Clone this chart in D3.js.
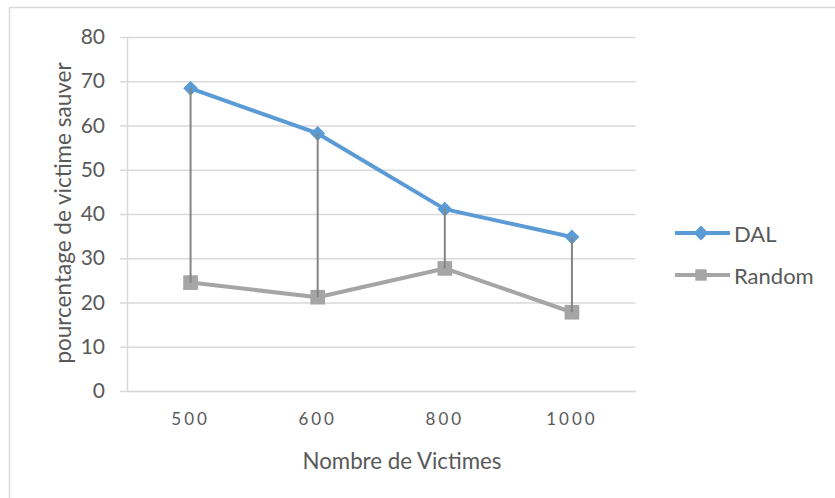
<!DOCTYPE html>
<html>
<head>
<meta charset="utf-8">
<script src="https://cdn.jsdelivr.net/npm/d3@7"></script>
<style>
  html, body { margin: 0; padding: 0; background: #fff; }
  svg { display: block; }
  text { font-family: Lato, "Open Sans", sans-serif; fill: #595959; }
</style>
</head>
<body>
<svg id="chart" width="835" height="498"></svg>
<script>
// Rescued-victim percentages per scenario size
const categories = ["500", "600", "800", "1000"];
const dalValues = [68.4, 58.2, 41.1, 34.8];
const randomValues = [24.5, 21.2, 27.7, 17.8];
const yTicks = [0, 10, 20, 30, 40, 50, 60, 70, 80];
const seriesNames = ["DAL", "Random"];

const plot = { left: 127, right: 635.5, top: 37, bottom: 391 };
const blue = "#5B9BD5", gray = "#A5A5A5", grid = "#D9D9D9";

const svg = d3.select("#chart");

// outer chart frame
svg.append("rect")
  .attr("x", 9.5).attr("y", 7.5)
  .attr("width", 835).attr("height", 495)
  .attr("fill", "#fff").attr("stroke", grid).attr("stroke-width", 1.5);

const x = d3.scaleBand().domain(categories).range([plot.left, plot.right]);
const y = d3.scaleLinear().domain([0, 80]).range([plot.bottom, plot.top]);

// horizontal gridlines with short outward ticks
const yAxis = d3.axisLeft(y)
  .tickValues(yTicks)
  .tickSize(-(plot.right - plot.left))
  .tickSizeOuter(0)
  .tickPadding(22);
const gy = svg.append("g").attr("transform", `translate(${plot.left},0)`).call(yAxis);
gy.select(".domain").attr("stroke", grid).attr("stroke-width", 1.5);
gy.selectAll(".tick line").attr("stroke", grid).attr("stroke-width", 1.5);
gy.selectAll(".tick").append("line")
  .attr("x1", -7).attr("x2", 0)
  .attr("stroke", grid).attr("stroke-width", 1.5);
gy.selectAll(".tick text")
  .style("font-size", "21px")
  .attr("fill", "#595959");

// category axis
const xAxis = d3.axisBottom(x).tickSize(0).tickSizeOuter(0).tickPadding(22);
const gx = svg.append("g").attr("transform", `translate(0,${plot.bottom})`).call(xAxis);
gx.select(".domain").attr("stroke", grid).attr("stroke-width", 1.5);
gx.selectAll(".tick text")
  .style("font-size", "17px")
  .style("letter-spacing", "3px")
  .attr("fill", "#595959");

// axis titles
svg.append("text")
  .attr("transform", `translate(62,213) rotate(-90)`)
  .attr("text-anchor", "middle")
  .attr("dominant-baseline", "central")
  .style("font-size", "22.5px")
  .text("pourcentage de victime sauver");

svg.append("text")
  .attr("x", 402).attr("y", 469)
  .attr("text-anchor", "middle")
  .style("font-size", "22.3px")
  .text("Nombre de Victimes");

const cx = c => x(c) + x.bandwidth() / 2;
const line = d3.line().x((d, i) => cx(categories[i])).y(d => y(d));

// series lines
svg.append("path").datum(randomValues)
  .attr("d", line).attr("fill", "none")
  .attr("stroke", gray).attr("stroke-width", 4).attr("stroke-linejoin", "round");
svg.append("path").datum(dalValues)
  .attr("d", line).attr("fill", "none")
  .attr("stroke", blue).attr("stroke-width", 4).attr("stroke-linejoin", "round");

// markers
const diamond = d3.symbol().type(d3.symbolDiamond2).size(140);
const square = d3.symbol().type(d3.symbolSquare).size(215);

svg.append("g").selectAll("path").data(randomValues).join("path")
  .attr("d", square)
  .attr("transform", (d, i) => `translate(${cx(categories[i])},${y(d)})`)
  .attr("fill", gray);
svg.append("g").selectAll("path").data(dalValues).join("path")
  .attr("d", diamond)
  .attr("transform", (d, i) => `translate(${cx(categories[i])},${y(d)})`)
  .attr("fill", blue);

// high-low drop lines between the two series
svg.append("g").selectAll("line").data(categories).join("line")
  .attr("x1", d => cx(d)).attr("x2", d => cx(d))
  .attr("y1", (d, i) => y(dalValues[i]))
  .attr("y2", (d, i) => y(randomValues[i]))
  .attr("stroke", "#858585").attr("stroke-width", 2);

// legend
const legend = svg.append("g");
const legendRows = [
  { name: seriesNames[0], color: blue, sym: diamond, ly: 233 },
  { name: seriesNames[1], color: gray, sym: d3.symbol().type(d3.symbolSquare).size(130), ly: 275 }
];
legendRows.forEach(r => {
  legend.append("line")
    .attr("x1", 675).attr("x2", 730).attr("y1", r.ly).attr("y2", r.ly)
    .attr("stroke", r.color).attr("stroke-width", 4);
  legend.append("path").attr("d", r.sym)
    .attr("transform", `translate(701,${r.ly})`).attr("fill", r.color);
  legend.append("text")
    .attr("x", 734).attr("y", r.ly)
    .attr("dominant-baseline", "central")
    .style("font-size", "22px")
    .text(r.name);
});
</script>
</body>
</html>
